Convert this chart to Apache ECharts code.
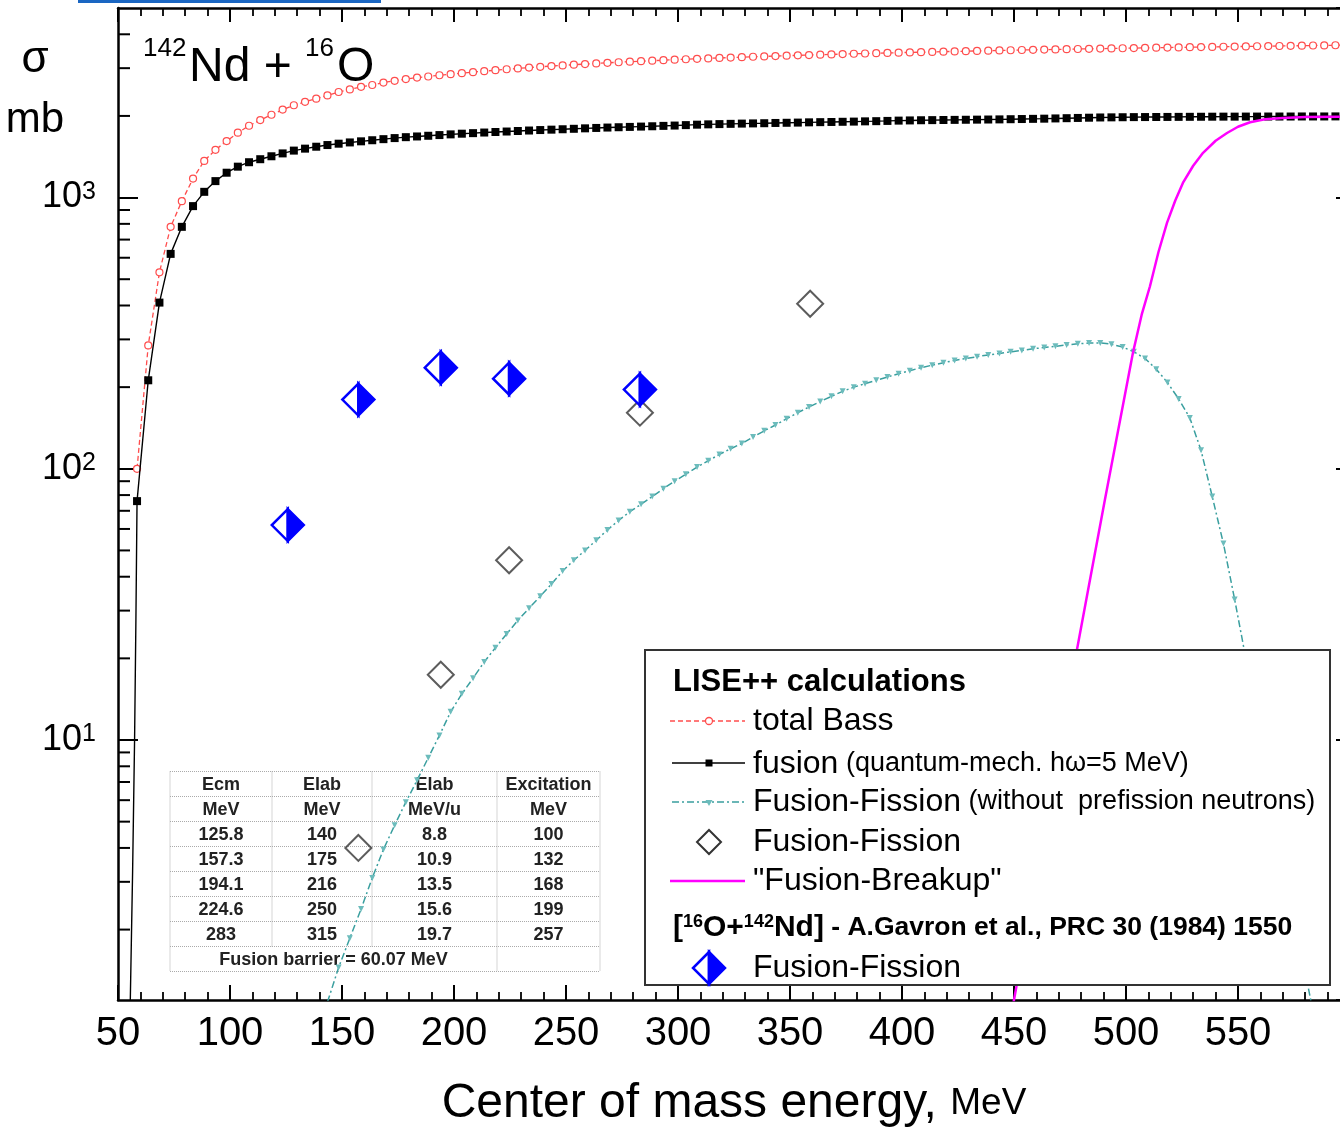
<!DOCTYPE html>
<html><head><meta charset="utf-8">
<script src="https://cdn.jsdelivr.net/npm/echarts@6/dist/echarts.min.js"></script>
<style>html,body{margin:0;padding:0;background:#fff;}#c{width:1340px;height:1128px;}</style>
</head><body><div id="c"></div>
<script>
// ---------- data ----------
const calcE = [58.5,63.5,68.5,73.5,78.5,83.5,88.5,93.5,98.5,103.5,108.5,113.5,118.5,123.5,128.5,133.5,138.5,143.5,148.5,153.5,158.5,163.5,168.5,173.5,178.5,183.5,188.5,193.5,198.5,203.5,208.5,213.5,218.5,223.5,228.5,233.5,238.5,243.5,248.5,253.5,258.5,263.5,268.5,273.5,278.5,283.5,288.5,293.5,298.5,303.5,308.5,313.5,318.5,323.5,328.5,333.5,338.5,343.5,348.5,353.5,358.5,363.5,368.5,373.5,378.5,383.5,388.5,393.5,398.5,403.5,408.5,413.5,418.5,423.5,428.5,433.5,438.5,443.5,448.5,453.5,458.5,463.5,468.5,473.5,478.5,483.5,488.5,493.5,498.5,503.5,508.5,513.5,518.5,523.5,528.5,533.5,538.5,543.5,548.5,553.5,558.5,563.5,568.5,573.5,578.5,583.5,588.5,593.5,598.5];
const totalBass = [100,285,530,780,970,1175,1365,1500,1615,1735,1840,1930,2020,2110,2190,2255,2315,2380,2450,2505,2560,2600,2655,2695,2735,2770,2795,2825,2850,2875,2900,2925,2950,2972,2994,3015,3035,3054,3072,3090,3107,3123,3139,3154,3169,3183,3197,3210,3223,3236,3248,3260,3272,3283,3294,3305,3315,3325,3335,3345,3354,3363,3372,3381,3390,3398,3406,3414,3422,3430,3437,3445,3452,3459,3466,3473,3480,3487,3493,3500,3506,3512,3518,3524,3530,3536,3542,3547,3553,3558,3564,3569,3574,3579,3584,3589,3594,3599,3604,3608,3613,3618,3622,3627,3631,3636,3640,3644,3648];
const fusion = [76,212,410,620,780,930,1050,1150,1235,1300,1350,1385,1420,1455,1490,1515,1540,1562,1580,1597,1612,1627,1642,1657,1670,1680,1690,1700,1710,1720,1728,1737,1745,1752,1760,1767,1774,1780,1786,1793,1800,1806,1812,1817,1822,1827,1832,1838,1843,1850,1857,1862,1866,1870,1874,1877,1880,1884,1887,1890,1894,1897,1900,1903,1906,1910,1913,1917,1922,1925,1928,1930,1932,1934,1936,1938,1940,1942,1945,1948,1951,1954,1958,1962,1966,1970,1974,1976,1978,1980,1981,1982,1983,1984,1985,1986,1987,1988,1988,1989,1989,1990,1990,1990,1991,1991,1991,1992,1992];
const fusionSubE = [55.4,56.5,57.4,58.0];
const fusionSubV = [1.0,3.2,10,28];
const ffCalcE = [143.5,148.5,153.5,158.5,163.5,168.5,173.5,178.5,183.5,188.5,193.5,198.5,203.5,208.5,213.5,218.5,223.5,228.5,233.5,238.5,243.5,248.5,253.5,258.5,263.5,268.5,273.5,278.5,283.5,288.5,293.5,298.5,303.5,308.5,313.5,318.5,323.5,328.5,333.5,338.5,343.5,348.5,353.5,358.5,363.5,368.5,373.5,378.5,383.5,388.5,393.5,398.5,403.5,408.5,413.5,418.5,423.5,428.5,433.5,438.5,443.5,448.5,453.5,458.5,463.5,468.5,473.5,478.5,483.5,488.5,493.5,498.5,503.5,508.5,513.5,518.5,523.5,528.5,533.5,538.5,543.5,548.5,553.5,558.5,563.5,568.5,573.5,578.5,583.5];
const ffCalc = [1.08,1.45,1.86,2.38,3.1,3.95,4.85,5.9,7.1,8.6,10.4,12.7,14.8,16.9,19.4,21.9,24.6,27.6,30.6,33.9,37.6,42,46,50,54.5,59.5,64.5,69.5,74,79,84.5,90,95.5,101.5,107,113,118.5,124,131,138,145,153,161,169,177,185,193,200,206,212,218,224,230,236,241,246,251,255,259,263,266,270,273,277,280,283,286,289,291,291,288,281,270,255,233,208,181,154,117,79,53,33,20,12,7.2,4.3,2.6,1.6,1.0];
const breakupE = [448.5,463.8,478.1,490.6,503.1,507,510.7,514.5,518.3,522,525.4,530,534.4,540,545.1,550,555.4,562,570.1,580,600];
const breakupV = [0.94,4.7,21.5,77,268,370,471,630,807,975,1132,1310,1462,1620,1730,1825,1896,1945,1967,1980,1990];
const ffPointE = [157.3,194.1,224.6,283,359];
const ffPointV = [4.0,17.4,46,161,406];
const gavronE = [125.8,157.3,194.1,224.6,283];
const gavronV = [62,180,236,215,196];
const yMinorTicks = [2,3,4,5,6,7,8,9,20,30,40,50,60,70,80,90,200,300,400,500,600,700,800,900,2000,3000,4000];
const tableHead1 = ['Ecm','Elab','Elab','Excitation'];
const tableHead2 = ['MeV','MeV','MeV/u','MeV'];
const tableRows = [['125.8','140','8.8','100'],['157.3','175','10.9','132'],['194.1','216','13.5','168'],['224.6','250','15.6','199'],['283','315','19.7','257']];
const tableFooter = 'Fusion barrier = 60.07 MeV';

// ---------- styles ----------
const SANS = "'Liberation Sans',Arial,sans-serif";
const RED = '#ff4d4d', TEAL = '#3a9f9f', BLUE = '#0000ff', MAG = '#ff00ff';

const chart = echarts.init(document.getElementById('c'), null, {renderer: 'canvas'});

const fusionData = fusionSubE.map((e, i) => ({value: [e, fusionSubV[i]], symbol: 'none'}))
  .concat(calcE.map((e, i) => [e, fusion[i]]));

const graphics = [];
// top link bar
graphics.push({type: 'rect', shape: {x: 78, y: 0, width: 303, height: 3}, style: {fill: '#1a66c2'}, z: 100});
// axis name sigma / mb
graphics.push({type: 'text', x: 35, y: 60, style: {text: 'σ', fontSize: 44, fontFamily: SANS, fill: '#000', align: 'center', verticalAlign: 'middle'}, z: 100});
graphics.push({type: 'text', x: 35, y: 120, style: {text: 'mb', fontSize: 42, fontFamily: SANS, fill: '#000', align: 'center', verticalAlign: 'middle'}, z: 100});
// reaction title
const tBig = {fontSize: 48, fontFamily: SANS, fill: '#000', verticalAlign: 'top'};
const tSup = {fontSize: 26, fontFamily: SANS, fill: '#000', verticalAlign: 'top'};
graphics.push({type: 'text', x: 143, y: 36, style: Object.assign({text: '142'}, tSup), z: 100});
graphics.push({type: 'text', x: 189, y: 44, style: Object.assign({text: 'Nd +'}, tBig), z: 100});
graphics.push({type: 'text', x: 305, y: 36, style: Object.assign({text: '16'}, tSup), z: 100});
graphics.push({type: 'text', x: 337, y: 44, style: Object.assign({text: 'O'}, tBig), z: 100});

// table
const colX = [170, 272, 372, 497, 600];
const rowY0 = 771.5, rowH = 25;
const tStroke = {stroke: '#aaa', lineWidth: 1, lineDash: [1, 1]};
for (let r = 0; r <= 8; r++) {
  graphics.push({type: 'line', shape: {x1: colX[0], y1: rowY0 + r * rowH, x2: colX[4], y2: rowY0 + r * rowH}, style: tStroke, z: 1});
}
colX.forEach((x, i) => {
  const bottom = (i === 1 || i === 2) ? rowY0 + 7 * rowH : rowY0 + 8 * rowH;
  graphics.push({type: 'line', shape: {x1: x, y1: rowY0, x2: x, y2: bottom}, style: tStroke, z: 1});
});
const allRows = [tableHead1, tableHead2].concat(tableRows);
const tFont = {fontSize: 18, fontWeight: 'bold', fontFamily: SANS, fill: '#222', align: 'center', verticalAlign: 'middle'};
allRows.forEach((row, r) => {
  row.forEach((t, c) => {
    graphics.push({type: 'text', x: (colX[c] + colX[c + 1]) / 2, y: rowY0 + r * rowH + rowH / 2 + 1, style: Object.assign({text: t}, tFont), z: 2});
  });
});
graphics.push({type: 'text', x: (colX[0] + colX[3]) / 2, y: rowY0 + 7 * rowH + rowH / 2 + 1, style: Object.assign({text: tableFooter}, tFont), z: 2});

// legend box
const LZ = 60;
graphics.push({type: 'rect', shape: {x: 645, y: 650, width: 685, height: 335}, style: {fill: '#fff', stroke: '#333', lineWidth: 2}, z: LZ});
const txt = (x, y, text, rich, extra) => ({type: 'text', x: x, y: y, style: Object.assign({text: text, rich: rich, fill: '#000', fontFamily: SANS, fontSize: 32, verticalAlign: 'middle'}, extra || {}), z: LZ + 1});
graphics.push(txt(673, 682, 'LISE++ calculations', null, {fontWeight: 'bold', fontSize: 31}));
// row 1 total Bass
graphics.push({type: 'line', shape: {x1: 670, y1: 721, x2: 745, y2: 721}, style: {stroke: RED, lineWidth: 1.6, lineDash: [5, 3]}, z: LZ + 1});
graphics.push({type: 'circle', shape: {cx: 709, cy: 721, r: 3.5}, style: {fill: '#fff', stroke: RED, lineWidth: 1.3}, z: LZ + 2});
graphics.push(txt(753, 721, 'total Bass'));
// row 2 fusion
graphics.push({type: 'line', shape: {x1: 672, y1: 763, x2: 745, y2: 763}, style: {stroke: '#000', lineWidth: 1.6}, z: LZ + 1});
graphics.push({type: 'rect', shape: {x: 705.5, y: 759.5, width: 7, height: 7}, style: {fill: '#000'}, z: LZ + 2});
graphics.push(txt(753, 764, '{a|fusion}{b| (quantum-mech. hω=5 MeV)}', {a: {fontSize: 32, fontFamily: SANS}, b: {fontSize: 27, fontFamily: SANS}}));
// row 3 fusion-fission calc
graphics.push({type: 'line', shape: {x1: 672, y1: 802, x2: 745, y2: 802}, style: {stroke: TEAL, lineWidth: 1.6, lineDash: [7, 3, 2, 3]}, z: LZ + 1});
graphics.push({type: 'polygon', shape: {points: [[705.5, 800], [712.5, 800], [709, 806]]}, style: {fill: '#6cbcbc'}, z: LZ + 2});
graphics.push(txt(753, 802, '{a|Fusion-Fission}{b| (without  prefission neutrons)}', {a: {fontSize: 32, fontFamily: SANS}, b: {fontSize: 27, fontFamily: SANS}}));
// row 4 diamond
graphics.push({type: 'polygon', shape: {points: [[709, 830], [721, 842], [709, 854], [697, 842]]}, style: {fill: 'none', stroke: '#333', lineWidth: 2}, z: LZ + 2});
graphics.push(txt(753, 842, 'Fusion-Fission'));
// row 5 breakup
graphics.push({type: 'line', shape: {x1: 670, y1: 881, x2: 745, y2: 881}, style: {stroke: MAG, lineWidth: 2.5}, z: LZ + 1});
graphics.push(txt(753, 881, '"Fusion-Breakup"'));
// header 2
graphics.push(txt(673, 928, '{a|[}{s|16}{a|O+}{s|142}{a|Nd]}{b| - A.Gavron et al., PRC 30 (1984) 1550}', {
  a: {fontSize: 30, fontWeight: 'bold', fontFamily: SANS},
  s: {fontSize: 18, fontWeight: 'bold', fontFamily: SANS, verticalAlign: 'top'},
  b: {fontSize: 26.5, fontWeight: 'bold', fontFamily: SANS}
}));
// row 6 blue half diamond
graphics.push({type: 'polygon', shape: {points: [[709, 952], [693, 968], [709, 984]]}, style: {fill: '#fff', stroke: BLUE, lineWidth: 2.5}, z: LZ + 2});
graphics.push({type: 'polygon', shape: {points: [[709, 952], [725, 968], [709, 984]]}, style: {fill: BLUE, stroke: BLUE, lineWidth: 2.5}, z: LZ + 2});
graphics.push(txt(753, 968, 'Fusion-Fission'));

const axisLineStyle = {color: '#000', width: 2.5};

const option = {
  animation: false,
  backgroundColor: '#fff',
  grid: {left: 118, top: 8, right: -10, bottom: 128, containLabel: false, outerBoundsMode: 'none'},
  xAxis: [{
    type: 'value', position: 'bottom', min: 50, max: 600, interval: 50,
    axisLine: {show: true, lineStyle: axisLineStyle},
    axisTick: {show: true, inside: true, length: 15, lineStyle: {color: '#000', width: 2}},
    minorTick: {show: true, splitNumber: 5, length: 8, lineStyle: {color: '#000', width: 1.8}},
    splitLine: {show: false},
    axisLabel: {color: '#000', fontSize: 40, fontFamily: SANS, margin: 14, showMaxLabel: false},
    name: '{a|Center of mass energy, }{b|MeV}', nameLocation: 'middle', nameGap: 80,
    nameTextStyle: {rich: {a: {fontSize: 48, fontFamily: SANS, color: '#000'}, b: {fontSize: 37, fontFamily: SANS, color: '#000'}}}
  }, {
    type: 'value', position: 'top', min: 50, max: 600, interval: 50,
    axisLine: {show: true, lineStyle: axisLineStyle},
    axisTick: {show: true, inside: true, length: 14, lineStyle: {color: '#000', width: 2}},
    minorTick: {show: true, splitNumber: 5, length: 8, lineStyle: {color: '#000', width: 1.8}},
    splitLine: {show: false}, axisLabel: {show: false}
  }],
  yAxis: [{
    type: 'log', logBase: 10, position: 'left', min: 1.1, max: 5000,
    axisLine: {show: true, lineStyle: axisLineStyle},
    axisTick: {show: true, inside: true, length: 20, lineStyle: {color: '#000', width: 2}},
    splitLine: {show: false},
    axisLabel: {
      showMinLabel: false, showMaxLabel: false, margin: 22,
      formatter: v => '{b|10}{s|' + Math.round(Math.log10(v)) + '}',
      rich: {b: {fontSize: 36, fontFamily: SANS, color: '#000'}, s: {fontSize: 25, fontFamily: SANS, color: '#000', verticalAlign: 'top'}}
    }
  }, {
    type: 'log', logBase: 10, position: 'right', min: 1.1, max: 5000,
    axisLine: {show: true, lineStyle: axisLineStyle},
    axisTick: {show: true, inside: true, length: 14, lineStyle: {color: '#000', width: 2}},
    splitLine: {show: false}, axisLabel: {show: false}
  }],
  series: [
    {
      name: 'total Bass', type: 'line', data: calcE.map((e, i) => [e, totalBass[i]]),
      lineStyle: {color: RED, width: 1.3, type: [5, 3]},
      symbol: 'circle', symbolSize: 7, showSymbol: true,
      itemStyle: {color: '#fff', borderColor: RED, borderWidth: 1.2}, z: 3
    },
    {
      name: 'fusion', type: 'line', data: fusionData,
      lineStyle: {color: '#000', width: 1.4},
      symbol: 'rect', symbolSize: 8, showSymbol: true,
      itemStyle: {color: '#000'}, z: 4
    },
    {
      name: 'Fusion-Fission calc', type: 'line', data: ffCalcE.map((e, i) => [e, ffCalc[i]]),
      lineStyle: {color: TEAL, width: 1.5, type: [7, 3, 2, 3]},
      symbol: 'triangle', symbolRotate: 180, symbolSize: 6, showSymbol: true,
      itemStyle: {color: '#6cbcbc'}, z: 3
    },
    {
      name: 'Fusion-Breakup', type: 'line', data: breakupE.map((e, i) => [e, breakupV[i]]),
      lineStyle: {color: MAG, width: 2.5}, symbol: 'none', smooth: false, z: 5
    },
    {
      name: 'Fusion-Fission', type: 'scatter', data: ffPointE.map((e, i) => [e, ffPointV[i]]),
      symbol: 'diamond', symbolSize: 26,
      itemStyle: {color: 'rgba(255,255,255,0)', borderColor: '#333', borderWidth: 2}, z: 6
    },
    {
      name: 'Gavron Fusion-Fission', type: 'custom', data: gavronE.map((e, i) => [e, gavronV[i]]), z: 7,
      renderItem: (params, api) => {
        const p = api.coord([api.value(0), api.value(1)]);
        const r = 16;
        return {type: 'group', children: [
          {type: 'polygon', shape: {points: [[p[0], p[1] - r], [p[0] - r, p[1]], [p[0], p[1] + r]]}, style: {fill: '#fff', stroke: BLUE, lineWidth: 2.5}},
          {type: 'polygon', shape: {points: [[p[0], p[1] - r], [p[0] + r, p[1]], [p[0], p[1] + r]]}, style: {fill: BLUE, stroke: BLUE, lineWidth: 2.5}}
        ]};
      }
    },
    {
      name: 'minor ticks', type: 'custom', data: yMinorTicks.map(v => [50, v]), z: 10, silent: true,
      renderItem: (params, api) => {
        const p = api.coord([50, api.value(1)]);
        return {type: 'line', shape: {x1: p[0], y1: p[1], x2: p[0] + 12, y2: p[1]}, style: {stroke: '#000', lineWidth: 2}};
      }
    }
  ],
  graphic: {elements: graphics}
};
chart.setOption(option);
</script>
</body></html>
